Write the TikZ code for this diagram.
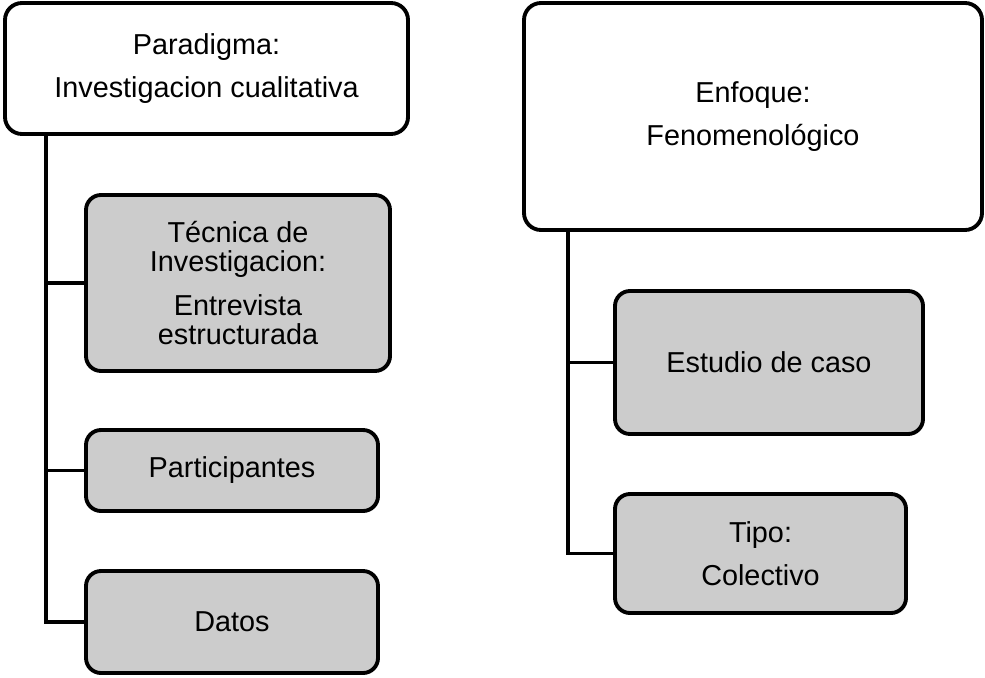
\documentclass[tikz,border=0pt]{standalone}
\usepackage{fontspec}
\setmainfont{Liberation Sans}
\usepackage{xcolor}
\usepackage{tikz}
\usetikzlibrary{positioning}

\definecolor{boxgray}{HTML}{CCCCCC}

\begin{document}
\begin{tikzpicture}[
  box/.style={rectangle, draw, rounded corners=0.34cm, line width=2.2pt, font=\fontsize{16.4pt}{17pt}\selectfont, align=center, inner sep=0pt},
  subbox/.style={box, fill=boxgray, rounded corners=0.3cm},
  link/.style={line width=2.2pt}
]
\useasboundingbox (0,0) rectangle (19.7,-13.54);

% Left: paradigm and its parts
\node[box, minimum width=8.06cm, minimum height=2.62cm] (paradigma) at (4.13,-1.37) {Paradigma:\\[7.5pt]Investigacion cualitativa};
\node[subbox, minimum width=6.08cm, minimum height=3.52cm] (tecnica) at (4.76,-5.66) {T\'ecnica de\\Investigacion:\\[7.5pt]Entrevista\\estructurada};
\node[subbox, minimum width=5.84cm, minimum height=1.62cm] (participantes) at (4.64,-9.41) {Participantes};
\node[subbox, minimum width=5.84cm, minimum height=2.04cm] (datos) at (4.64,-12.44) {Datos};

% Right: approach and its parts
\node[box, minimum width=9.16cm, minimum height=4.54cm] (enfoque) at (15.06,-2.33) {Enfoque:\\[7.5pt]Fenomenol\'ogico};
\node[subbox, minimum width=6.16cm, minimum height=2.86cm] (estudio) at (15.38,-7.25) {Estudio de caso};
\node[subbox, minimum width=5.82cm, minimum height=2.38cm] (tipo) at (15.21,-11.07) {Tipo:\\[7.5pt]Colectivo};

% Spines
\coordinate (lspine) at (0.92,0);
\coordinate (rspine) at (11.36,0);

% Left connectors
\draw[link] (paradigma.south -| lspine) |- (datos.west);
\draw[link] (tecnica.west) -- (tecnica.west -| lspine);
\draw[link] (participantes.west) -- (participantes.west -| lspine);

% Right connectors
\draw[link] (enfoque.south -| rspine) |- (tipo.west);
\draw[link] (estudio.west) -- (estudio.west -| rspine);

\end{tikzpicture}
\end{document}
